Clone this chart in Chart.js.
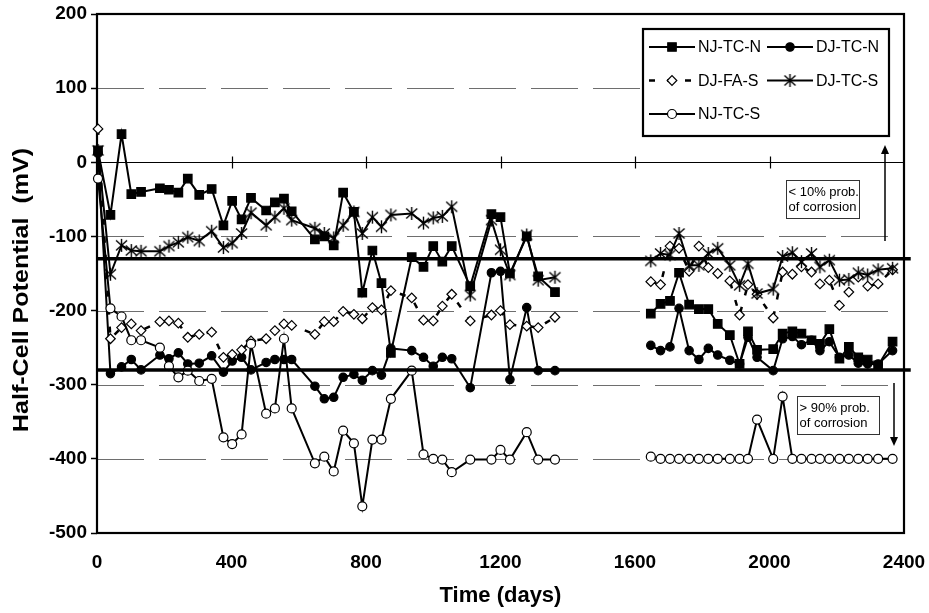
<!DOCTYPE html>
<html>
<head>
<meta charset="utf-8">
<script src="https://cdn.jsdelivr.net/npm/chart.js@4/dist/chart.umd.min.js"></script>
<style>
html,body{margin:0;padding:0;background:#fff;}
#wrap{width:929px;height:613px;}
</style>
</head>
<body>
<div id="wrap"><canvas id="hcp" width="929" height="613"></canvas></div>
<script>
// survey days, first and second monitoring period
const DAYS_A=[3,40,73,102,131,187,214,242,270,304,341,376,402,430,458,503,529,556,579,648,676,704,732,764,789,819,846,874,936,971,1000,1027,1055,1110,1173,1200,1228,1278,1312,1362];
const DAYS_B=[1647,1676,1704,1731,1761,1790,1818,1846,1882,1911,1936,1963,2011,2039,2068,2095,2125,2150,2178,2208,2236,2264,2292,2323,2366];

const NJ_TC_N_A=[16,-71,38,-43,-40,-35,-37,-41,-22,-44,-36,-85,-52,-77,-48,-65,-54,-49,-66,-104,-100,-112,-41,-67,-176,-119,-163,-257,-128,-141,-113,-134,-113,-167,-70,-74,-150,-100,-154,-175];
const NJ_TC_N_B=[-204,-191,-187,-149,-192,-198,-198,-218,-233,-272,-228,-253,-252,-231,-228,-231,-240,-245,-225,-265,-249,-263,-266,-274,-242];
const DJ_TC_N_A=[12,-285,-276,-266,-280,-260,-265,-257,-272,-271,-261,-283,-268,-263,-280,-270,-266,-266,-266,-302,-319,-317,-290,-286,-294,-281,-287,-251,-254,-263,-275,-263,-265,-304,-149,-147,-293,-196,-281,-281];
const DJ_TC_N_B=[-247,-254,-249,-197,-254,-266,-251,-260,-267,-272,-236,-263,-281,-238,-235,-246,-240,-254,-242,-263,-260,-271,-272,-272,-254];
const DJ_FA_S_A=[45,-238,-223,-218,-227,-215,-214,-217,-236,-232,-229,-263,-259,-253,-241,-238,-227,-218,-220,-232,-215,-215,-201,-205,-211,-196,-199,-173,-183,-213,-214,-194,-178,-214,-206,-200,-219,-221,-223,-209];
const DJ_FA_S_B=[-161,-165,-113,-116,-147,-113,-142,-150,-160,-206,-165,-178,-210,-148,-151,-141,-148,-164,-159,-193,-175,-155,-167,-164,-145];
const DJ_TC_S_A=[16,-151,-112,-119,-120,-120,-113,-108,-101,-106,-93,-115,-109,-96,-68,-85,-74,-62,-78,-89,-96,-102,-85,-67,-96,-74,-87,-71,-69,-82,-75,-73,-60,-179,-78,-118,-152,-98,-159,-155];
const DJ_TC_S_B=[-133,-123,-125,-96,-139,-139,-123,-116,-139,-166,-137,-177,-171,-127,-122,-134,-123,-141,-132,-159,-158,-149,-152,-145,-143];
const NJ_TC_S_A=[-22,-197,-208,-240,-240,-250,-275,-290,-281,-295,-292,-371,-380,-367,-245,-339,-332,-238,-332,-406,-397,-417,-362,-379,-464,-374,-374,-319,-281,-394,-400,-401,-418,-401,-401,-388,-401,-364,-401,-401];
const NJ_TC_S_B=[-397,-400,-400,-400,-400,-400,-400,-400,-400,-400,-400,-347,-400,-316,-400,-400,-400,-400,-400,-400,-400,-400,-400,-400,-400];

// corrosion probability limits (mV) and axis ticks
const THRESHOLDS=[-130,-280];
const THRESHOLD_END=2420;
const X_TICKS=[0,400,800,1200,1600,2000,2400];
const Y_TICKS=[200,100,0,-100,-200,-300,-400,-500];
const Y_TITLE='Half-Cell Potential  (mV)';
const FONT='"Liberation Sans", Arial, sans-serif';

function series(a,b){
  const pa=DAYS_A.map((d,i)=>({x:d,y:a[i]}));
  const pb=DAYS_B.map((d,i)=>({x:d,y:b[i]}));
  return pa.concat([{x:(DAYS_A[DAYS_A.length-1]+DAYS_B[0])/2,y:null}],pb);
}

function starMarker(){
  const c=document.createElement('canvas'); c.width=c.height=15;
  const g=c.getContext('2d');
  g.strokeStyle='#000'; g.lineWidth=1.4;
  g.beginPath();
  g.moveTo(7.5,1); g.lineTo(7.5,14);
  g.moveTo(2,2.5); g.lineTo(13,12.5);
  g.moveTo(13,2.5); g.lineTo(2,12.5);
  g.stroke();
  return c;
}

const base={borderColor:'#000',borderWidth:2,pointBorderColor:'#000',pointBorderWidth:1.2,spanGaps:false,tension:0,clip:false};
const datasets=[
  {...base,label:'NJ-TC-N',data:series(NJ_TC_N_A,NJ_TC_N_B),pointStyle:'rect',pointRadius:6,pointBackgroundColor:'#000',order:5},
  {...base,label:'DJ-TC-N',data:series(DJ_TC_N_A,DJ_TC_N_B),pointStyle:'circle',pointRadius:4.2,pointBackgroundColor:'#000',order:4},
  {...base,label:'DJ-FA-S',data:series(DJ_FA_S_A,DJ_FA_S_B),pointStyle:'rectRot',pointRadius:4.8,pointBackgroundColor:'#fff',borderWidth:2.5,borderDash:[6,12],order:3},
  {...base,label:'DJ-TC-S',data:series(DJ_TC_S_A,DJ_TC_S_B),pointStyle:starMarker(),pointRadius:6,pointBackgroundColor:'#000',order:2},
  {...base,label:'NJ-TC-S',data:series(NJ_TC_S_A,NJ_TC_S_B),pointStyle:'circle',pointRadius:4.5,pointBackgroundColor:'#fff',order:1},
];
THRESHOLDS.forEach(t=>datasets.push({label:'',data:[{x:0,y:t},{x:THRESHOLD_END,y:t}],borderColor:'#000',borderWidth:3.5,pointRadius:0,clip:false,order:0,isLimit:true}));

function drawArrow(ctx,x,y1,y2){
  const dir=y2<y1?-1:1;
  ctx.beginPath(); ctx.moveTo(x,y1); ctx.lineTo(x,y2-dir*8); ctx.stroke();
  ctx.beginPath(); ctx.moveTo(x,y2); ctx.lineTo(x-4,y2-dir*9); ctx.lineTo(x+4,y2-dir*9); ctx.closePath(); ctx.fill();
}

function noteBox(ctx,x,y,w,h,lines){
  ctx.fillStyle='#fff'; ctx.fillRect(x,y,w,h);
  ctx.strokeStyle='#333'; ctx.lineWidth=1; ctx.strokeRect(x+0.5,y+0.5,w,h);
  ctx.fillStyle='#000'; ctx.font='13px '+FONT; ctx.textBaseline='middle'; ctx.textAlign='left';
  lines.forEach((s,i)=>ctx.fillText(s,x+2.5,y+12+i*15.5));
}

const decor={
  id:'decor',
  beforeDatasetsDraw(chart){
    const {ctx,chartArea:a,scales:{x,y}}=chart;
    ctx.save();
    // dashed gridlines
    ctx.strokeStyle='#6e6e6e'; ctx.lineWidth=1; ctx.setLineDash([47,15]);
    Y_TICKS.filter(v=>v!==0&&v<200&&v>-500).forEach(v=>{
      const py=Math.round(y.getPixelForValue(v))+0.5;
      ctx.beginPath(); ctx.moveTo(a.left,py); ctx.lineTo(a.right,py); ctx.stroke();
    });
    ctx.setLineDash([]);
    // zero line with cross ticks
    ctx.strokeStyle='#000'; ctx.lineWidth=1.2;
    const y0=Math.round(y.getPixelForValue(0))+0.5;
    ctx.beginPath(); ctx.moveTo(a.left,y0); ctx.lineTo(a.right,y0);
    X_TICKS.slice(1,-1).forEach(v=>{const px=Math.round(x.getPixelForValue(v))+0.5; ctx.moveTo(px,y0-6); ctx.lineTo(px,y0+6);});
    ctx.stroke();
    // plot frame
    ctx.lineWidth=2.2;
    ctx.strokeRect(a.left,a.top,a.right-a.left,a.bottom-a.top);
    // y axis title (Excel draws it slightly wide and below plot centre)
    ctx.translate(22,290); ctx.rotate(-Math.PI/2); ctx.scale(1.14,1);
    ctx.fillStyle='#000'; ctx.font='bold 22px '+FONT; ctx.textAlign='center'; ctx.textBaseline='middle';
    ctx.fillText(Y_TITLE,0,0);
    ctx.restore();
  },
  afterDatasetsDraw(chart){
    const {ctx}=chart;
    ctx.save();
    // legend
    const L={x:643,y:29,w:246,h:107};
    ctx.fillStyle='#fff'; ctx.fillRect(L.x,L.y,L.w,L.h);
    ctx.strokeStyle='#000'; ctx.lineWidth=2.2; ctx.strokeRect(L.x,L.y,L.w,L.h);
    const items=chart.data.datasets.filter(d=>!d.isLimit);
    items.forEach((d,i)=>{
      const col=i%2, row=Math.floor(i/2);
      const lx=L.x+6+col*118, ly=L.y+18+row*33.5;
      ctx.strokeStyle=d.borderColor; ctx.lineWidth=d.borderWidth; ctx.setLineDash(d.borderDash||[]);
      ctx.beginPath(); ctx.moveTo(lx,ly); ctx.lineTo(lx+46,ly); ctx.stroke();
      ctx.setLineDash([]);
      ctx.fillStyle=d.pointBackgroundColor; ctx.strokeStyle=d.pointBorderColor; ctx.lineWidth=d.pointBorderWidth;
      Chart.helpers.drawPoint(ctx,{pointStyle:d.pointStyle,radius:d.pointRadius,rotation:0,borderWidth:d.pointBorderWidth},lx+23,ly);
      ctx.fillStyle='#000'; ctx.font='16px '+FONT; ctx.textBaseline='middle'; ctx.textAlign='left';
      ctx.fillText(d.label,lx+49,ly+1);
    });
    // probability notes and arrows
    noteBox(ctx,786,180,73,38,['< 10% prob.','of corrosion']);
    noteBox(ctx,797,396,82,38,['> 90% prob.','of corrosion']);
    ctx.strokeStyle='#000'; ctx.fillStyle='#000'; ctx.lineWidth=1.5;
    drawArrow(ctx,885,241,145);
    drawArrow(ctx,894,383,446);
    ctx.restore();
  }
};

new Chart(document.getElementById('hcp'),{
  type:'line',
  data:{datasets},
  options:{
    responsive:false,
    animation:false,
    events:[],
    layout:{padding:{top:14,right:25,left:0,bottom:0}},
    plugins:{legend:{display:false},tooltip:{enabled:false}},
    scales:{
      x:{
        type:'linear',min:0,max:2400,
        afterBuildTicks:s=>{s.ticks=X_TICKS.map(v=>({value:v}));},
        afterFit:s=>{s.height=80; s.paddingLeft=0; s.paddingRight=0;},
        grid:{display:true,drawOnChartArea:false,drawTicks:false},
        border:{display:false},
        ticks:{color:'#000',font:{family:FONT,size:19,weight:'bold'},padding:18,maxRotation:0,callback:v=>String(v)},
        title:{display:true,text:'Time (days)',color:'#000',font:{family:FONT,size:22,weight:'bold'},padding:{top:0,bottom:4}}
      },
      y:{
        min:-500,max:200,
        afterBuildTicks:s=>{s.ticks=Y_TICKS.map(v=>({value:v}));},
        afterFit:s=>{s.width=97; s.paddingTop=0; s.paddingBottom=0;},
        grid:{drawOnChartArea:false,drawTicks:true,tickLength:6,tickColor:'#000',tickWidth:1.5},
        border:{display:false},
        ticks:{color:'#000',font:{family:FONT,size:19,weight:'bold'},padding:4,callback:v=>String(v)},
        title:{display:false}
      }
    }
  },
  plugins:[decor]
});
</script>
</body>
</html>
